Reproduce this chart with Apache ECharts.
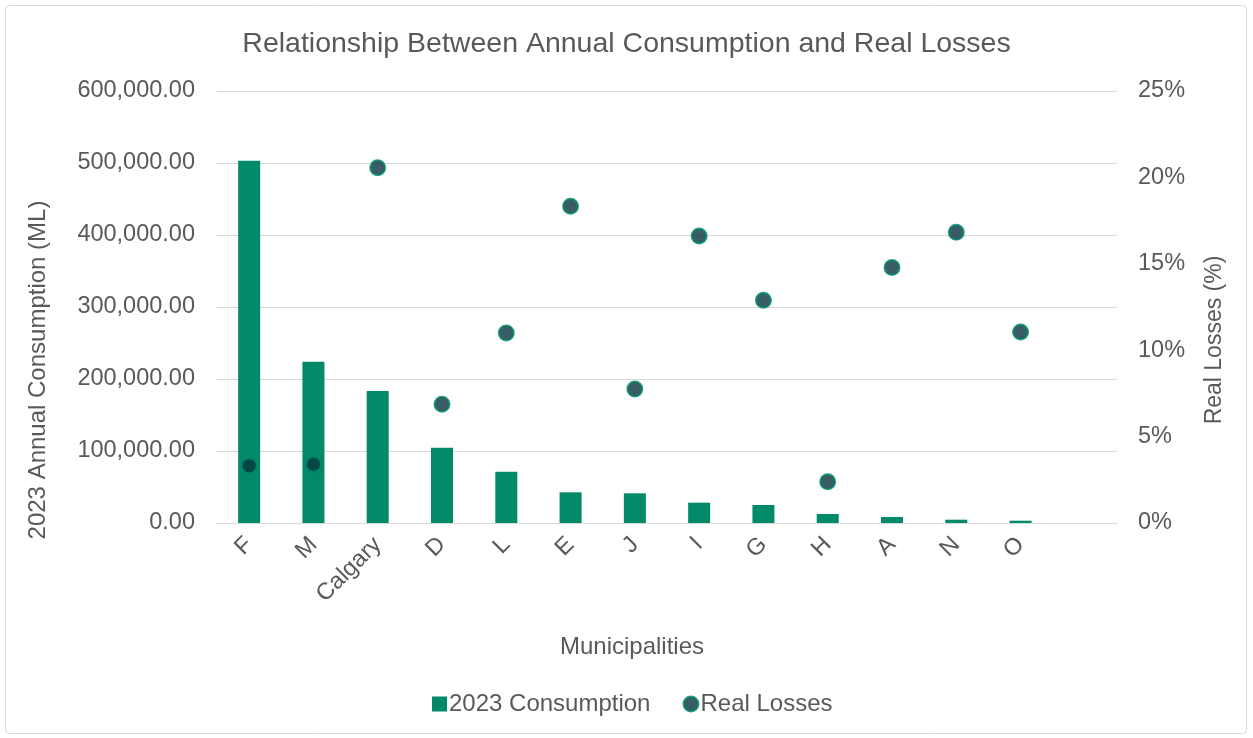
<!DOCTYPE html>
<html>
<head>
<meta charset="utf-8">
<script src="https://cdn.jsdelivr.net/npm/echarts@6/dist/echarts.min.js"></script>
<style>
  html, body { margin: 0; padding: 0; background: #fff; }
  #chart { width: 1253px; height: 738px; }
</style>
</head>
<body>
<div id="chart"></div>
<script>
// Municipalities, ordered by annual consumption (last slot left empty)
const municipalities = ['F', 'M', 'Calgary', 'D', 'L', 'E', 'J', 'I', 'G', 'H', 'A', 'N', 'O', ''];
// 2023 annual consumption, ML
const consumption = [503000, 224000, 183300, 104600, 71300, 42600, 41200, 28200, 25000, 12500, 8300, 4600, 3200, null];
// Real losses, % of supply
const realLosses = [3.32, 3.40, 20.56, 6.87, 11.0, 18.33, 7.75, 16.61, 12.89, 2.39, 14.78, 16.82, 11.05, null];
// Axis tick settings
const consumptionTicks = { min: 0, max: 600000, interval: 100000 };
const lossTicks = { min: 0, max: 25, interval: 5 };

const FONT = '"Liberation Sans", Arial, sans-serif';
const TEXT = '#595959';
const GRID = '#d9d9d9';
const GREEN = '#008a69';
const NAVY = '#06353f';
const LABEL_SIZE = 23.5;
const NAME_SIZE = 24;

const chart = echarts.init(document.getElementById('chart'), null, { renderer: 'canvas' });

chart.setOption({
  backgroundColor: '#fff',
  animation: false,
  textStyle: { fontFamily: FONT, color: TEXT },
  title: {
    text: 'Relationship Between Annual Consumption and Real Losses',
    left: 'center',
    top: 25,
    textStyle: { fontFamily: FONT, fontSize: 28.5, fontWeight: 'normal', color: TEXT }
  },
  grid: { left: 217, right: 136, top: 91, bottom: 215, containLabel: false },
  legend: {
    bottom: 17,
    left: 427,
    itemGap: 32,
    itemWidth: 15,
    itemHeight: 15,
    textStyle: { fontFamily: FONT, fontSize: NAME_SIZE, color: TEXT, padding: [0, 0, 0, -3] },
    data: [
      { name: '2023 Consumption', icon: 'rect' },
      { name: 'Real Losses', icon: 'circle', itemStyle: { color: NAVY, borderColor: GREEN, borderWidth: 2 } }
    ]
  },
  xAxis: {
    type: 'category',
    data: municipalities,
    axisLine: { show: true, lineStyle: { color: GRID, width: 1 } },
    axisTick: { show: false },
    axisLabel: { rotate: 45, fontFamily: FONT, fontSize: LABEL_SIZE, color: TEXT, margin: 18, interval: 0 }
  },
  yAxis: [
    {
      type: 'value',
      min: consumptionTicks.min,
      max: consumptionTicks.max,
      interval: consumptionTicks.interval,
      axisLine: { show: false },
      axisTick: { show: false },
      splitLine: { lineStyle: { color: GRID, width: 1 } },
      axisLabel: {
        fontFamily: FONT, fontSize: LABEL_SIZE, color: TEXT, margin: 22,
        formatter: v => v.toLocaleString('en-US', { minimumFractionDigits: 2, maximumFractionDigits: 2 })
      }
    },
    {
      type: 'value',
      min: lossTicks.min,
      max: lossTicks.max,
      interval: lossTicks.interval,
      axisLine: { show: false },
      axisTick: { show: false },
      splitLine: { show: false },
      axisLabel: { fontFamily: FONT, fontSize: LABEL_SIZE, color: TEXT, margin: 21, formatter: v => v + '%' }
    }
  ],
  graphic: [
    {
      type: 'rect',
      shape: { x: 5.5, y: 5.5, width: 1241, height: 728, r: 4 },
      style: { fill: 'none', stroke: GRID, lineWidth: 1 },
      silent: true
    },
    {
      type: 'text',
      x: 38, y: 370,
      rotation: Math.PI / 2,
      style: { text: '2023 Annual Consumption (ML)', fontFamily: FONT, fontSize: NAME_SIZE, fill: TEXT, align: 'center', verticalAlign: 'middle' }
    },
    {
      type: 'text',
      x: 1215, y: 340,
      rotation: Math.PI / 2,
      style: { text: 'Real Losses (%)', fontFamily: FONT, fontSize: 23, fill: TEXT, align: 'center', verticalAlign: 'middle' }
    },
    {
      type: 'text',
      x: 632, y: 647,
      style: { text: 'Municipalities', fontFamily: FONT, fontSize: NAME_SIZE, fill: TEXT, align: 'center', verticalAlign: 'middle' }
    }
  ],
  series: [
    {
      name: '2023 Consumption',
      type: 'bar',
      yAxisIndex: 0,
      data: consumption,
      barWidth: 22,
      itemStyle: { color: GREEN }
    },
    {
      name: 'Real Losses',
      type: 'scatter',
      yAxisIndex: 1,
      data: realLosses,
      symbol: 'circle',
      symbolSize: 15,
      itemStyle: { color: NAVY, borderColor: GREEN, borderWidth: 2 },
      z: 3
    }
  ]
});
</script>
</body>
</html>
